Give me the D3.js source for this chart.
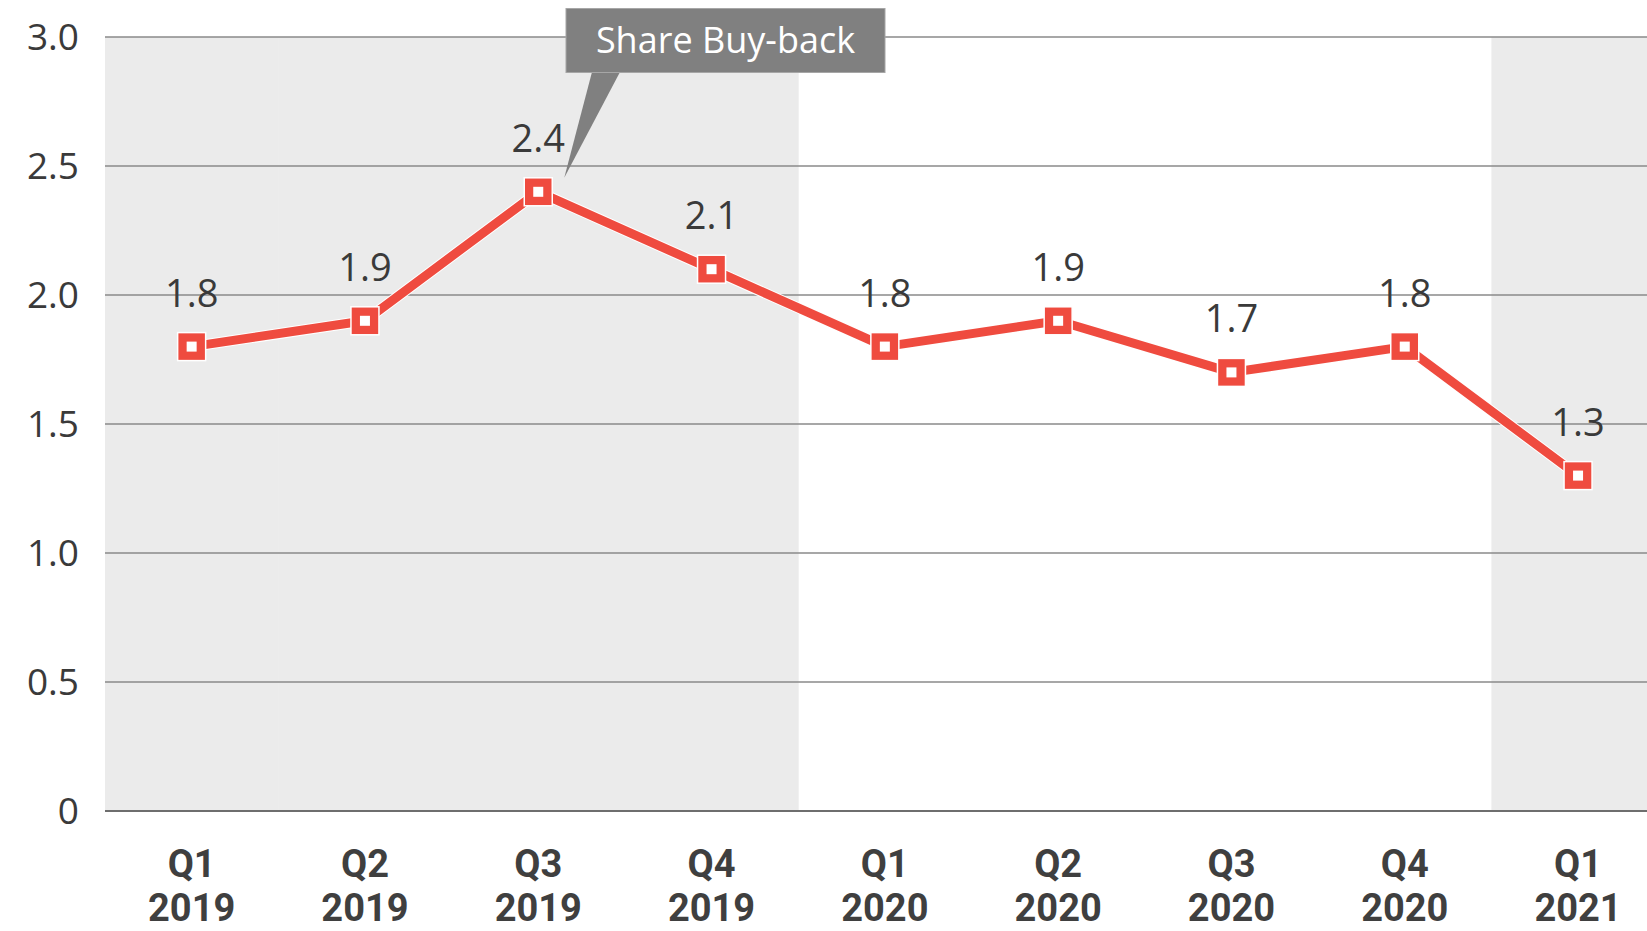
<!DOCTYPE html>
<html>
<head>
<meta charset="utf-8">
<script src="https://cdn.jsdelivr.net/npm/d3@7"></script>
<style>
  html, body { margin: 0; padding: 0; background: #fff; }
  svg text { font-family: "Open Sans", "Noto Sans", sans-serif; }
</style>
</head>
<body>
<svg id="chart" width="1647" height="931"></svg>
<script>
// data
const quarters = ["Q1", "Q2", "Q3", "Q4", "Q1", "Q2", "Q3", "Q4", "Q1"];
const years = ["2019", "2019", "2019", "2019", "2020", "2020", "2020", "2020", "2021"];
const values = [1.8, 1.9, 2.4, 2.1, 1.8, 1.9, 1.7, 1.8, 1.3];
const yTicks = [0, 0.5, 1.0, 1.5, 2.0, 2.5, 3.0];
const shadedYears = ["2019", "2021"]; // grey background bands
const calloutText = "Share Buy-back";
const calloutIndex = 2;

const keys = quarters.map((q, i) => q + " " + years[i]);

const svg = d3.select("#chart");
const plotLeft = 105, plotTop = 37, plotBottom = 811;
const step = 173.3;

const x = d3.scaleBand().domain(keys).range([plotLeft, plotLeft + step * keys.length]).padding(0);
const y = d3.scaleLinear().domain([0, 3]).range([plotBottom, plotTop]);

// background shading
svg.append("g").selectAll("rect")
    .data(keys.filter((k, i) => shadedYears.includes(years[i])))
    .enter().append("rect")
      .attr("x", (d) => x(d))
      .attr("y", y(3))
      .attr("width", x.bandwidth() + 0.5)
      .attr("height", y(0) - y(3))
      .attr("fill", "#ebebeb");

// gridlines
svg.append("g").selectAll("line")
    .data(yTicks)
    .enter().append("line")
      .attr("x1", plotLeft)
      .attr("x2", 1647)
      .attr("y1", (d) => y(d))
      .attr("y2", (d) => y(d))
      .attr("stroke", (d) => d === 0 ? "#6e6e6e" : "#8a8a8a")
      .attr("stroke-width", (d) => d === 0 ? 2 : 1.4);

// y tick labels
svg.append("g").selectAll("text")
    .data(yTicks)
    .enter().append("text")
      .attr("x", 79)
      .attr("y", (d) => y(d))
      .attr("dy", "0.36em")
      .attr("text-anchor", "end")
      .attr("font-size", 37)
      .attr("fill", "#3a3a3a")
      .text((d) => d === 0 ? "0" : d.toFixed(1));

// x labels (quarter on top, year below)
const xl = svg.append("g").selectAll("text")
    .data(keys)
    .enter().append("text")
      .attr("text-anchor", "middle")
      .attr("font-size", 38)
      .attr("font-weight", "bold")
      .style("font-family", "Roboto, sans-serif")
      .attr("fill", "#3f3f3f");
xl.append("tspan")
    .attr("x", (d) => x(d) + x.bandwidth() / 2)
    .attr("y", 877)
    .text((d, i) => quarters[i]);
xl.append("tspan")
    .attr("x", (d) => x(d) + x.bandwidth() / 2)
    .attr("y", 921)
    .text((d, i) => years[i]);

// line
const cx = (i) => x(keys[i]) + x.bandwidth() / 2;
const line = d3.line().x((d, i) => cx(i)).y((d) => y(d));
svg.append("path")
    .attr("d", line(values))
    .attr("fill", "none")
    .attr("stroke", "#ffffff")
    .attr("stroke-width", 11)
    .attr("stroke-linejoin", "round");
svg.append("path")
    .attr("d", line(values))
    .attr("fill", "none")
    .attr("stroke", "#ef4b3f")
    .attr("stroke-width", 9)
    .attr("stroke-linejoin", "round");

// markers
const m = svg.append("g").selectAll("g")
    .data(values)
    .enter().append("g")
      .attr("transform", (d, i) => "translate(" + cx(i) + "," + y(d) + ")");
m.append("rect")
    .attr("x", -14).attr("y", -14).attr("width", 28).attr("height", 28)
    .attr("fill", "#ef4b3f")
    .attr("stroke", "#ffffff")
    .attr("stroke-width", 1.5);
m.append("rect")
    .attr("x", -5).attr("y", -5).attr("width", 10).attr("height", 10)
    .attr("fill", "#ffffff");

// data labels
svg.append("g").selectAll("text")
    .data(values)
    .enter().append("text")
      .attr("x", (d, i) => cx(i))
      .attr("y", (d) => y(d) - 40)
      .attr("text-anchor", "middle")
      .attr("font-size", 38)
      .attr("fill", "#3a3a3a")
      .text((d) => d.toFixed(1));

// callout
const tipX = cx(calloutIndex) + 26, tipY = y(values[calloutIndex]) - 14;
const callout = svg.append("g");
callout.append("path")
    .attr("d", "M" + 592 + "," + 72 + "L" + 620 + "," + 72 + "L" + tipX + "," + tipY + "Z")
    .attr("fill", "#808080");
callout.append("rect")
    .attr("x", 566).attr("y", 8.5)
    .attr("width", 319).attr("height", 64)
    .attr("fill", "#808080")
    .attr("stroke", "#a6a6a6")
    .attr("stroke-width", 1);
callout.append("text")
    .attr("x", 725.5)
    .attr("y", 40.5)
    .attr("dy", "0.36em")
    .attr("text-anchor", "middle")
    .attr("font-size", 36)
    .attr("fill", "#ffffff")
    .text(calloutText);
</script>
</body>
</html>
